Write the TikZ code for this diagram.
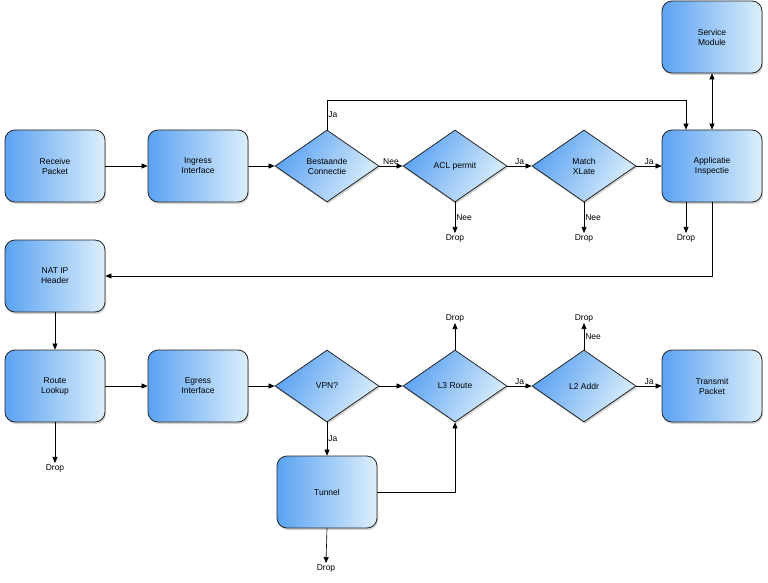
\documentclass[tikz,border=0pt]{standalone}
\usepackage{fontspec}
\setmainfont{Liberation Sans}
\usetikzlibrary{shapes.geometric,arrows.meta,shadows}
\definecolor{bl}{HTML}{5BA2F2}
\definecolor{bll}{HTML}{DCEFFB}
\begin{document}
\begin{tikzpicture}[x=1pt,y=-1pt,
 box/.style={draw=black!85,line width=0.8pt,rounded corners=10pt,minimum width=100pt,minimum height=72pt,left color=bl,right color=bll,align=center,font=\fontsize{8.5}{10}\selectfont,drop shadow={opacity=0.35,shadow xshift=1pt,shadow yshift=-2pt}},
 dia/.style={draw=black!85,line width=0.8pt,diamond,aspect=1.45,minimum width=104pt,minimum height=72pt,inner sep=0pt,left color=bl,right color=bll,shading angle=60,align=center,font=\fontsize{8.5}{10}\selectfont,drop shadow={opacity=0.35,shadow xshift=1pt,shadow yshift=-2pt}},
 lbl/.style={font=\fontsize{8.5}{10}\selectfont,inner sep=1pt},
 ar/.style={-{Triangle[length=6pt,width=5pt]},line width=0.6pt}]
\useasboundingbox (0,0) rectangle (768,583);
\node[box] (svc) at (712,37) {Service\\Module};
\node[box] (rec) at (55,166) {Receive\\Packet};
\node[box] (ing) at (198,166) {Ingress\\Interface};
\node[dia] (bes) at (327,166) {Bestaande\\Connectie};
\node[dia] (acl) at (455,166) {ACL permit};
\node[dia] (mx) at (584,166) {Match\\XLate};
\node[box] (app) at (712,166) {Applicatie\\Inspectie};
\node[box] (nat) at (55,276) {NAT IP\\Header};
\node[box] (rl) at (55,386) {Route\\Lookup};
\node[box] (eg) at (198,386) {Egress\\Interface};
\node[dia] (vpn) at (327,386) {VPN?};
\node[dia] (l3) at (455,386) {L3 Route};
\node[dia] (l2) at (584,386) {L2 Addr};
\node[box] (tx) at (712,386) {Transmit\\Packet};
\node[box] (tun) at (327,492) {Tunnel};
\node[lbl] (d1) at (455,238) {Drop};
\node[lbl] (d2) at (584,238) {Drop};
\node[lbl] (d3) at (686,238) {Drop};
\node[lbl] (d4) at (55,468) {Drop};
\node[lbl] (d5) at (455,318) {Drop};
\node[lbl] (d6) at (584,318) {Drop};
\node[lbl] (d7) at (326,568) {Drop};
\draw[ar] (rec) -- (ing);
\draw[ar] (ing) -- (bes);
\draw[ar] (bes) -- node[lbl,above]{Nee} (acl);
\draw[ar] (acl) -- node[lbl,above]{Ja} (mx);
\draw[ar] (mx) -- node[lbl,above]{Ja} (app);
\draw[ar] (bes.north) -- node[lbl,right,pos=0.5]{Ja} (327,100) -- (686,100) -- (app.north -| 686,0);
\draw[{Triangle[length=6pt,width=5pt]}-{Triangle[length=6pt,width=5pt]},line width=0.6pt] (svc) -- (app);
\draw[ar] (acl.south) -- node[lbl,right]{Nee} (d1.north);
\draw[ar] (mx.south) -- node[lbl,right]{Nee} (d2.north);
\draw[ar] (app.south -| d3) -- (d3.north);
\draw[ar] (app.south -| 712,0) -- (712,276) -- (nat.east);
\draw[ar] (nat) -- (rl);
\draw[ar] (rl.south) -- (d4.north);
\draw[ar] (rl) -- (eg);
\draw[ar] (eg) -- (vpn);
\draw[ar] (vpn) -- (l3);
\draw[ar] (l3) -- node[lbl,above]{Ja} (l2);
\draw[ar] (l2) -- node[lbl,above]{Ja} (tx);
\draw[ar] (l3.north) -- (d5.south);
\draw[ar] (l2.north) -- node[lbl,right]{Nee} (d6.south);
\draw[ar] (vpn.south) -- node[lbl,right]{Ja} (tun.north);
\draw[ar] (tun.east) -- (455,492) -- (l3.south);
\draw[ar] (tun.south) -- (d7.north);
\end{tikzpicture}
\end{document}
